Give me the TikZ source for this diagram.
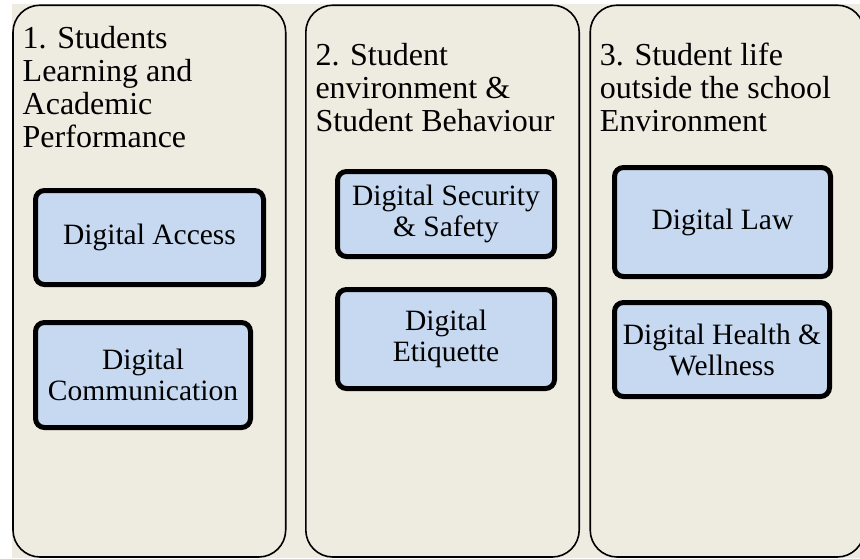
\documentclass[tikz,border=0pt]{standalone}
\usepackage{fontspec}
\setmainfont{Liberation Serif}
\definecolor{bgtan}{HTML}{EEEBE1}
\definecolor{boxblue}{HTML}{C6D9F1}
\begin{document}
\begin{tikzpicture}[x=1pt,y=-1pt,
  column/.style={draw=black, line width=1.6pt, rounded corners=27pt, fill=bgtan,
    inner sep=0pt, minimum width=#1, minimum height=551.8pt},
  item/.style={draw=black, line width=5pt, rounded corners=9pt, fill=boxblue,
    align=center, inner sep=0pt, font=\fontsize{29.5}{31}\selectfont},
  heading/.style={anchor=west, align=left, inner sep=0pt,
    font=\fontsize{32}{32.8}\selectfont}]
\useasboundingbox (0,0) rectangle (860,558);
\fill[white] (0,0) rectangle (860,558);
\fill[bgtan] (12,4) rectangle (860,558);
% columns
\node[column=272.7pt] (col1) at (149.35,281.1) {};
\node[column=273.4pt] (col2) at (442.5,281.1) {};
\node[column=274pt] (col3) at (727.2,281.1) {};
% headings
\node[heading] (h1) at (22.5,87) {1. Students\\Learning and\\Academic\\Performance};
\node[heading] (h2) at (315.3,87.5) {2. Student\\environment \&\\Student Behaviour};
\node[heading] (h3) at (599.7,87.5) {3. Student life\\outside the school\\Environment};
% items
\node[item, minimum width=228pt, minimum height=94pt] (access) at (149.5,237.5) {Digital Access};
\node[item, minimum width=215pt, minimum height=105pt] (comm) at (143,375) {Digital\\Communication};
\node[item, minimum width=217pt, minimum height=85pt] (security) at (446,214) {Digital Security\\\& Safety};
\node[item, minimum width=217pt, minimum height=99pt] (etiquette) at (446,339) {Digital\\Etiquette};
\node[item, minimum width=216pt, minimum height=109pt] (law) at (722.5,222) {Digital Law};
\node[item, minimum width=215pt, minimum height=94pt] (health) at (722,349.5) {Digital Health \&\\Wellness};
\end{tikzpicture}
\end{document}
